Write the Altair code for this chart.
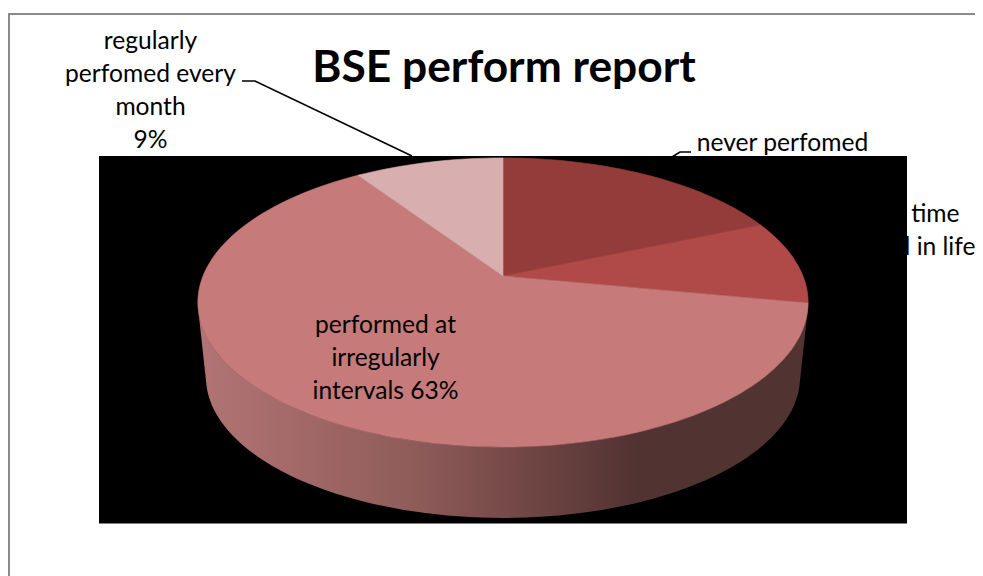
import math
import altair as alt
import pandas as pd

# Data
categories = ["never perfomed", "only one time performed in life", "performed at irregularly intervals", "regularly perfomed every month"]
shares = [18.6, 9.4, 62.6, 9.4]
slice_colors = ["#943c3a", "#b04a48", "#c67b7a", "#d9aeae"]
title_text = "BSE perform report"

W, H = 967, 568
xs = alt.Scale(domain=[8, 8 + W], range=[0, W])
ys = alt.Scale(domain=[8, 8 + H], range=[0, H])
X = alt.X("x:Q", scale=xs, axis=None)
Y = alt.Y("y:Q", scale=ys, axis=None)


def rim(pct, cx=503, cy=276, sx=300, sy=139.7, k=0.183):
    """Point of a perspective-tilted pie rim, pct = cumulative share clockwise from 12 o'clock."""
    a = pct / 100 * 2 * math.pi
    u, v = math.sin(a), math.cos(a)
    d = 1 + k * v
    return cx + sx * u / d, cy - sy * v / d


def poly(points, color_or_gradient, stroke=None):
    df = pd.DataFrame(points, columns=["x", "y"])
    df["i"] = range(len(df))
    return (
        alt.Chart(df)
        .mark_line(fill=color_or_gradient, stroke=stroke or "transparent", strokeWidth=0.6, interpolate="linear-closed")
        .encode(x=X, y=Y, order="i:Q")
    )


def polyline(points, color="#000000", width=1.6):
    df = pd.DataFrame(points, columns=["x", "y"])
    df["i"] = range(len(df))
    return alt.Chart(df).mark_line(color=color, strokeWidth=width).encode(x=X, y=Y, order="i:Q")


def text(lines, x, y, size=24.6, weight="normal", align="center", baseline="middle"):
    return (
        alt.Chart(pd.DataFrame({"t": [lines]}))
        .mark_text(font="Lato", fontSize=size, fontWeight=weight, align=align, baseline=baseline,
                   lineHeight=33, color="#000000")
        .encode(x=alt.value(x - 8), y=alt.value(y - 8), text="t:N")
    )


def rect(x0, y0, x1, y1, fill, stroke=None):
    df = pd.DataFrame({"x": [x0], "x2": [x1], "y": [y0], "y2": [y1]})
    kw = dict(fill=fill) if fill else dict(fillOpacity=0, fill="#ffffff")
    if stroke:
        kw.update(stroke=stroke, strokeWidth=2)
    return alt.Chart(df).mark_rect(**kw).encode(x=X, x2="x2:Q", y=Y, y2="y2:Q")


layers = []
layers.append(rect(9, 14, 1000, 600, None, "#8a8a8a"))

# labels that sit behind the black plot rectangle
layers.append(text(["regularly", "perfomed every", "month", "9%"], 150.5, 41.5))
layers.append(text(["never perfomed", "19%"], 782.5, 144))
layers.append(text(["only one time", "performed in life", "9%"], 886, 214.5))
layers.append(polyline([(242, 81), (255, 81), (412, 156)]))
layers.append(polyline([(672, 157), (680, 152), (691, 152)]))

layers.append(rect(99, 156, 907, 523.5, "#000000"))

# wall of the pie: lower half of the top rim closed with the lower rim
steps = [29 + i * 0.5 for i in range(85)]
upper = [rim(p) for p in steps]
lower = [rim(p, cy=351.5, sx=292, sy=136) for p in steps]
grad = alt.LinearGradient(
    gradient="linear", x1=0, x2=1, y1=0, y2=0,
    stops=[
        alt.GradientStop(offset=0.0, color="#b27474"),
        alt.GradientStop(offset=0.35, color="#8f5c5a"),
        alt.GradientStop(offset=0.58, color="#6a4240"),
        alt.GradientStop(offset=0.72, color="#513332"),
        alt.GradientStop(offset=1.0, color="#513332"),
    ],
)
layers.append(poly(upper + lower[::-1], grad))

# top face
start = 0.0
for share, color in zip(shares, slice_colors):
    n = max(2, int(share * 2))
    arc = [rim(start + share * j / n) for j in range(n + 1)]
    layers.append(poly([(503, 276)] + arc, color, color))
    start += share

layers.append(text(["performed at", "irregularly", "intervals 63%"], 385.5, 325.5))
layers.append(text(title_text, 504, 69, size=44.3, weight="bold"))

chart = (
    alt.layer(*layers)
    .properties(width=W, height=H, padding=0, autosize=alt.AutoSizeParams(type="none"), background="#ffffff")
    .configure_view(stroke=None)
)
chart.save("out.html", embed_options={"renderer": "svg", "actions": False})
